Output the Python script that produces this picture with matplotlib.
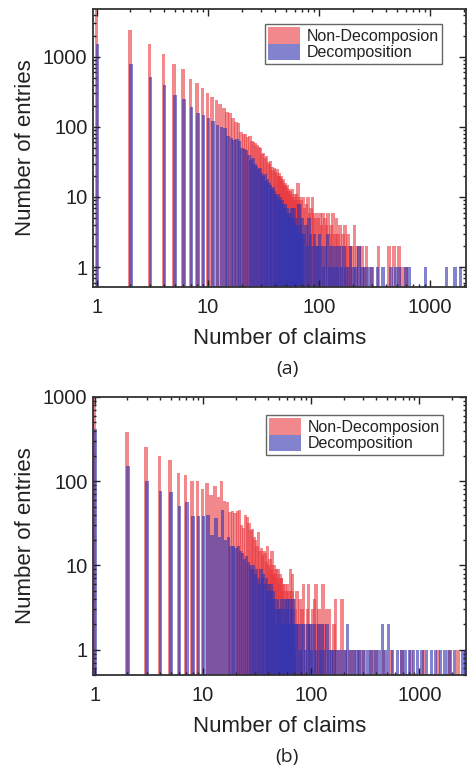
import numpy as np
import matplotlib
matplotlib.use("Agg")
import matplotlib.pyplot as plt
from matplotlib.patches import Patch
from matplotlib.ticker import LogLocator, NullFormatter

plt.rcParams["font.family"] = ["Liberation Sans", "DejaVu Sans"]

# ---- data: number of entries per claim count ----
head_n = np.arange(1, 71)

# panel (a)
a_red_head = [6000, 2400, 1540, 1100, 800, 670, 485, 425, 360, 306,
              270, 243, 215, 185, 165, 158, 135, 118, 112, 84,
              80, 78, 72, 74, 62, 60, 58, 55, 52, 50,
              41, 43, 36, 38, 32, 30, 33, 27, 24, 26,
              23, 25, 20, 22, 19, 20, 17, 18, 15, 16,
              14, 15, 12, 13, 11, 12, 10, 13, 9, 11,
              10, 9, 11, 8, 16, 9, 10, 8, 7, 9]
a_blue_head = [1500, 795, 520, 400, 287, 250, 193, 158, 150, 134,
               120, 105, 100, 96, 73, 70, 65, 67, 62, 50,
               48, 47, 40, 34, 36, 30, 28, 25, 26, 22,
               20, 21, 17, 18, 16, 15, 13, 14, 12, 11,
               10, 11, 9, 10, 8, 9, 8, 7, 8, 6,
               7, 6, 5, 6, 5, 7, 5, 4, 7, 4,
               5, 4, 3, 4, 8, 3, 4, 3, 5, 3]
a_red_tail_n = [72, 75, 78, 80, 83, 85, 88, 90, 93, 96, 100, 103, 106, 110,
                114, 118, 122, 126, 130, 135, 140, 145, 150, 155, 160, 166,
                172, 178, 185, 192, 200, 210, 220, 232, 245, 260, 270, 300,
                345, 430, 475, 530, 560, 600]
a_red_tail = [10, 7, 8, 10, 6, 7, 10, 6, 5, 6, 5, 6, 4, 6,
              5, 4, 6, 3, 4, 6, 3, 5, 3, 4, 2, 3,
              4, 2, 3, 2, 2, 4, 2, 2, 2, 1, 2, 1,
              2, 2, 2, 2, 1, 1]
a_blue_tail_n = [72, 75, 78, 80, 83, 86, 90, 93, 96, 100, 104, 108, 112, 117,
                 122, 126, 131, 137, 143, 150, 157, 165, 173, 182, 190, 200,
                 212, 225, 240, 255, 275, 295, 330, 370, 440, 480, 520, 600,
                 640, 900, 1380, 1650, 1850]
a_blue_tail = [3, 4, 2, 5, 3, 2, 3, 2, 2, 3, 2, 1, 2, 3,
               1, 2, 1, 2, 1, 2, 1, 2, 1, 1, 2, 1,
               1, 2, 1, 1, 1, 1, 1, 1, 1, 1, 1, 1,
               1, 1, 1, 1, 1]

# panel (b)
b_red_head = [1500, 380, 254, 200, 180, 125, 120, 100, 100, 80,
              95, 68, 88, 65, 100, 58, 56, 43, 44, 42,
              44, 45, 30, 28, 40, 38, 32, 26, 27, 22,
              20, 17, 25, 15, 16, 13, 15, 14, 11, 17,
              10, 12, 9, 15, 8, 10, 8, 9, 7, 9,
              6, 8, 7, 7, 5, 6, 4, 6, 5, 4,
              6, 3, 5, 4, 9, 3, 5, 8, 3, 4]
b_blue_head = [420, 150, 100, 76, 74, 51, 56, 39, 39, 39,
               40, 23, 37, 22, 46, 20, 22, 17, 17, 16,
               17, 15, 14, 12, 13, 11, 10, 9, 10, 8,
               9, 7, 6, 9, 7, 8, 6, 7, 5, 6,
               5, 6, 4, 5, 4, 3, 2, 4, 3, 3,
               3, 2, 4, 2, 3, 2, 4, 2, 3, 4,
               2, 2, 4, 2, 3, 2, 4, 2, 1, 2]
b_red_tail_n = [72, 75, 78, 80, 83, 86, 90, 93, 96, 100, 104, 108, 112, 116,
                120, 125, 130, 135, 140, 150, 158, 165, 170, 180, 195, 210,
                230, 250, 280, 310, 360, 400, 470, 560, 700, 850, 1100, 1500,
                1900, 2300]
b_red_tail = [3, 5, 2, 4, 3, 6, 2, 3, 6, 2, 3, 4, 6, 2,
              3, 2, 6, 2, 3, 3, 1, 2, 4, 1, 4, 1,
              1, 1, 1, 1, 1, 1, 1, 1, 1, 1, 1, 1,
              1, 1]
b_blue_tail_n = [72, 75, 78, 80, 84, 88, 92, 96, 100, 105, 110, 115, 120, 125,
                 130, 138, 145, 152, 160, 170, 180, 192, 205, 215, 228, 245,
                 262, 280, 300, 330, 360, 390, 420, 450, 480, 515, 560, 620,
                 680, 740, 800, 870, 950, 1050, 1150, 1280, 1400, 1550, 1700,
                 1900, 2100, 2500, 2650]
b_blue_tail = [2, 2, 1, 2, 2, 1, 2, 2, 1, 2, 1, 2, 1, 2,
               1, 2, 1, 1, 1, 1, 1, 1, 1, 2, 1, 1,
               1, 1, 1, 1, 1, 1, 1, 2, 1, 2, 1, 1,
               1, 1, 1, 1, 1, 1, 1, 1, 1, 1, 1,
               1, 1, 1, 1]

RED = "#e8393f"
BLUE = "#3535b0"


def log_bars(ax, n, v, color, alpha, shift):
    # thin bars of constant width on the log axis
    n = np.asarray(n, dtype=float)
    w = 0.032
    left = n * 10 ** (shift - w / 2)
    right = n * 10 ** (shift + w / 2)
    ax.bar(left, v, width=right - left, align="edge", color=color,
           alpha=alpha, linewidth=0)


def draw_panel(ax, red_n, red_v, blue_n, blue_v, xlim, ylim, yticks):
    ax.set_xscale("log")
    ax.set_yscale("log")
    log_bars(ax, red_n, red_v, RED, 0.6, -0.005)
    log_bars(ax, blue_n, blue_v, BLUE, 0.62, 0.005)
    ax.set_xlim(*xlim)
    ax.set_ylim(*ylim)
    ax.set_xticks([1, 10, 100, 1000])
    ax.set_xticklabels(["1", "10", "100", "1000"])
    ax.set_yticks(yticks)
    ax.set_yticklabels([str(t) for t in yticks])
    for axis in (ax.xaxis, ax.yaxis):
        axis.set_minor_locator(LogLocator(base=10, subs=np.arange(2, 10)))
        axis.set_minor_formatter(NullFormatter())
    ax.tick_params(which="both", direction="in", top=True, right=True,
                   labelsize=14.5, colors="#222222", width=1.0)
    ax.tick_params(which="major", length=5, pad=4)
    ax.tick_params(axis="x", which="major", pad=8)
    ax.tick_params(which="minor", length=2.5)
    for s in ax.spines.values():
        s.set_linewidth(1.3)
        s.set_color("#333333")
    ax.set_xlabel("Number of claims", fontsize=16, color="#222222", labelpad=8)
    ax.set_ylabel("Number of entries", fontsize=16, color="#222222", labelpad=5)


fig = plt.figure(figsize=(4.71, 7.72), dpi=100)
ax_a = fig.add_axes([93 / 471, 1 - 287 / 772, 373 / 471, 278 / 772])
ax_b = fig.add_axes([93 / 471, 1 - 675 / 772, 373 / 471, 278 / 772])

draw_panel(ax_a, list(head_n) + a_red_tail_n, a_red_head + a_red_tail,
           list(head_n) + a_blue_tail_n, a_blue_head + a_blue_tail,
           (0.92, 2100), (0.52, 4800), [1, 10, 100, 1000])
draw_panel(ax_b, list(head_n) + b_red_tail_n, b_red_head + b_red_tail,
           list(head_n) + b_blue_tail_n, b_blue_head + b_blue_tail,
           (0.96, 2700), (0.5, 1000), [1, 10, 100, 1000])

handles = [Patch(facecolor=RED, alpha=0.6, edgecolor="none"),
           Patch(facecolor=BLUE, alpha=0.62, edgecolor="none")]
labels = ["Non-Decomposion", "Decomposition"]
for ax, anchor in ((ax_a, (0.936, 0.946)), (ax_b, (0.938, 0.935))):
    leg = ax.legend(handles, labels, loc="upper right", bbox_to_anchor=anchor,
                    borderaxespad=0, fontsize=11.5, handlelength=2.0,
                    handleheight=1.2, labelspacing=0.0, borderpad=0.2,
                    handletextpad=0.4, fancybox=False, framealpha=1)
    leg.get_frame().set_edgecolor("#666666")
    leg.get_frame().set_linewidth(1.0)
    for t in leg.get_texts():
        t.set_color("#222222")

fig.text(287 / 471, 1 - 369 / 772, "(a)", ha="center", va="center",
         fontsize=14, family="Open Sans", color="#222222")
fig.text(287 / 471, 1 - 757 / 772, "(b)", ha="center", va="center",
         fontsize=14, family="Open Sans", color="#222222")

fig.savefig("out.png", dpi=100)
